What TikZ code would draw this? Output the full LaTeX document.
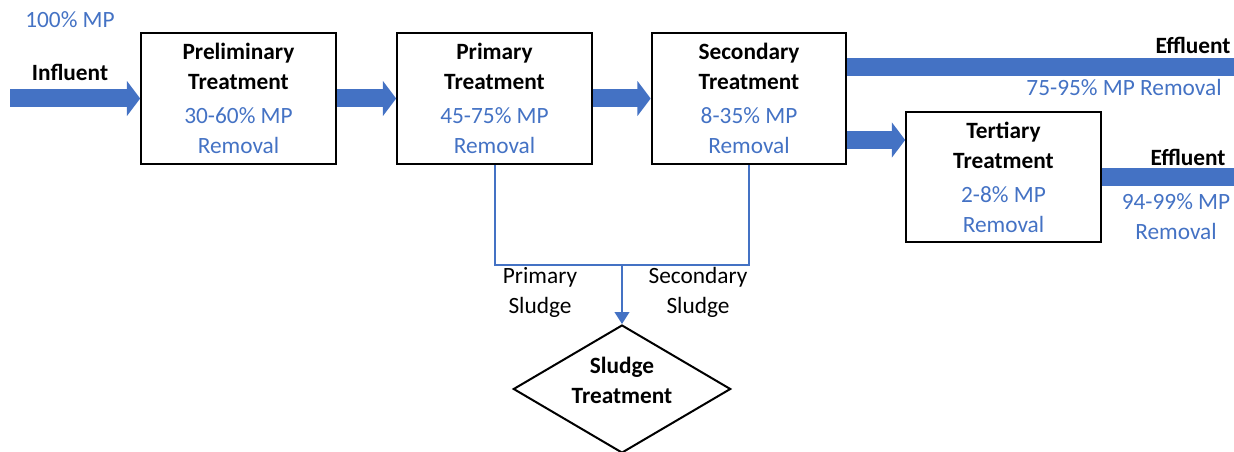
\documentclass[tikz,border=0pt]{standalone}
\usepackage{fontspec}
\setmainfont{Carlito}
\usetikzlibrary{arrows.meta,shapes.geometric}
\definecolor{mpblue}{HTML}{4472C4}
\tikzset{
  stage/.style={draw, line width=1.5pt, minimum width=146pt, minimum height=98pt,
    inner sep=0pt, align=center, font=\fontsize{17.5}{22.5}\selectfont},
  flow/.style={mpblue, line width=13.5pt, -{Triangle[length=10pt,width=26pt]}},
  bar/.style={mpblue, line width=13pt},
  sludge/.style={mpblue, line width=1.5pt},
  lbl/.style={align=center, inner sep=0pt, font=\fontsize{17.5}{22.5}\selectfont}
}
\begin{document}
\begin{tikzpicture}[x=0.75pt, y=-0.75pt]
  \useasboundingbox (0,0) rectangle (1234,452);

  % --- Stages ---
  \node[stage] (prel) at (238.5,98.5) {\textbf{Preliminary}\\\textbf{Treatment}\\[3pt]\textcolor{mpblue}{30-60\% MP}\\\textcolor{mpblue}{Removal}};
  \node[stage] (prim) at (494.5,98.5) {\textbf{Primary}\\\textbf{Treatment}\\[3pt]\textcolor{mpblue}{45-75\% MP}\\\textcolor{mpblue}{Removal}};
  \node[stage] (seco) at (749,98.5) {\textbf{Secondary}\\\textbf{Treatment}\\[3pt]\textcolor{mpblue}{8-35\% MP}\\\textcolor{mpblue}{Removal}};
  \node[stage] (tert) at (1003.5,177) {\textbf{Tertiary}\\\textbf{Treatment}\\[3pt]\textcolor{mpblue}{2-8\% MP}\\\textcolor{mpblue}{Removal}};
  % Sludge treatment (diamond)
  \node[diamond, draw, aspect=1.7, line width=1.5pt, minimum width=163pt, minimum height=96pt,
    inner sep=0pt, text depth=13pt, align=center, font=\fontsize{17.5}{22.5}\selectfont] (sludgetr) at (622,389)
    {\textbf{Sludge}\\\textbf{Treatment}};

  % --- Free ends ---
  \coordinate (inflow) at (10,98.5);
  \coordinate (effA) at (1234,67);
  \coordinate (effB) at (1234,177);
  \coordinate (junc) at (622,265);

  % --- Main flow ---
  \draw[flow] (inflow) -- (prel.west);
  \draw[flow] (prel.east) -- (prim.west);
  \draw[flow] (prim.east) -- (seco.west);
  \draw[flow] (seco.east |- 0,140) -- (tert.west |- 0,140);
  \draw[bar] (seco.east |- effA) -- (effA);
  \draw[bar] (tert.east) -- (effB);

  % --- Sludge lines ---
  \draw[sludge] (prim.south) |- (junc) -| (seco.south);
  \draw[sludge, -{Triangle[length=9pt,width=11pt]}] (junc) -- (sludgetr.north);

  % --- Labels ---
  \node[lbl, text=mpblue] (mpin) at (70,20) {100\% MP};
  \node[lbl] (influent) at (70,72) {\textbf{Influent}};
  \node[lbl] (effAlbl) at (1193,45) {\textbf{Effluent}};
  \node[lbl, text=mpblue] (effAmp) at (1124,87) {75-95\% MP Removal};
  \node[lbl] (effBlbl) at (1188,157) {\textbf{Effluent}};
  \node[lbl, text=mpblue] (effBmp) at (1176,217) {94-99\% MP\\Removal};
  \node[lbl] (primsl) at (540,292) {Primary\\Sludge};
  \node[lbl] (secosl) at (698,292) {Secondary\\Sludge};
\end{tikzpicture}
\end{document}
